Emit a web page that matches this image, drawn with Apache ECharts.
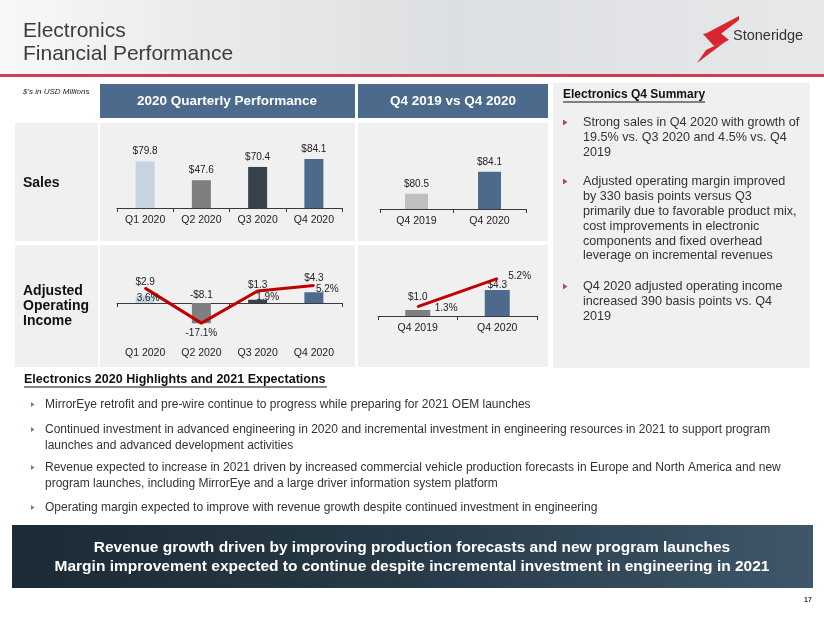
<!DOCTYPE html>
<html>
<head>
<meta charset="utf-8">
<script src="https://cdn.jsdelivr.net/npm/echarts@6/dist/echarts.min.js"></script>
<style>
html,body{margin:0;padding:0;background:#fff;}
#c{width:824px;height:618px;}
</style>
</head>
<body>
<div id="c"></div>
<script>
// ---- data ----
const quarters = ['Q1 2020', 'Q2 2020', 'Q3 2020', 'Q4 2020'];
const salesQ = [79.8, 47.6, 70.4, 84.1];
const opIncomeQ = [2.9, -8.1, 1.3, 4.3];
const opMarginQ = [3.6, -17.1, 1.9, 5.2];
const yoyCats = ['Q4 2019', 'Q4 2020'];
const salesYoY = [80.5, 84.1];
const opIncomeYoY = [1.0, 4.3];
const opMarginYoY = [1.3, 5.2];

const summaryBullets = [
  ['Strong sales in Q4 2020 with growth of', '19.5% vs. Q3 2020 and 4.5% vs. Q4', '2019'],
  ['Adjusted operating margin improved', 'by 330 basis points versus Q3', 'primarily due to favorable product mix,', 'cost improvements in electronic', 'components and fixed overhead', 'leverage on incremental revenues'],
  ['Q4 2020 adjusted operating income', 'increased 390 basis points vs. Q4', '2019']
];
const highlightBullets = [
  ['MirrorEye retrofit and pre-wire continue to progress while preparing for 2021 OEM launches'],
  ['Continued investment in advanced engineering in 2020 and incremental investment in engineering resources in 2021 to support program', 'launches and advanced development activities'],
  ['Revenue expected to increase in 2021 driven by increased commercial vehicle production forecasts in Europe and North America and new', 'program launches, including MirrorEye and a large driver information system platform'],
  ['Operating margin expected to improve with revenue growth despite continued investment in engineering']
];

// ---- styles ----
const FONT = "'Liberation Sans', Arial, sans-serif";
const quarterColors = ['#c6d4e1', '#7f7f7f', '#37424c', '#4b6a8c'];
const yoySalesColors = ['#bfbfbf', '#4b6a8c'];
const yoyOpColors = ['#7f7f7f', '#4b6a8c'];
const RED = '#c00000';
const AXIS = '#3a3a3a';

const money = v => (v < 0 ? '-$' : '$') + Math.abs(v).toFixed(1);
const pct = v => v.toFixed(1) + '%';

const chart = echarts.init(document.getElementById('c'), null, {renderer: 'canvas'});

const g = [];
// header background
g.push({type: 'rect', z: -20, shape: {x: 0, y: 0, width: 824, height: 75},
  style: {fill: new echarts.graphic.LinearGradient(0, 0, 1, 0, [
    {offset: 0, color: '#f8f8f8'}, {offset: 0.25, color: '#e9eaeb'},
    {offset: 0.55, color: '#dcdfe1'}, {offset: 1, color: '#e6e8ea'}])}});
g.push({type: 'text', z: 50, style: {text: 'Electronics', x: 23, y: 31, font: '21px ' + FONT, fill: '#3c3c3c', textVerticalAlign: 'middle'}});
g.push({type: 'text', z: 50, style: {text: 'Financial Performance', x: 23, y: 54, font: '21px ' + FONT, fill: '#3c3c3c', textVerticalAlign: 'middle'}});
// logo
g.push({type: 'polygon', z: 50, shape: {points: [[739,16],[739,20],[718,36],[703,35]]}, style: {fill: '#d8252f'}});
g.push({type: 'polygon', z: 50, shape: {points: [[703,34],[718,31],[729,40],[714,46]]}, style: {fill: '#d8252f'}});
g.push({type: 'polygon', z: 50, shape: {points: [[729,39],[717,48],[697,63],[706,50]]}, style: {fill: '#d8252f'}});
g.push({type: 'text', z: 50, style: {text: 'Stoneridge', x: 733, y: 36, font: '14.5px ' + FONT, fill: '#333', textVerticalAlign: 'middle'}});
// red rule
g.push({type: 'rect', z: 50, shape: {x: 0, y: 74, width: 824, height: 3}, style: {fill: '#d03d52'}});
g.push({type: 'text', z: 50, style: {text: "$'s in USD Millions", x: 23, y: 92, font: 'italic 8px ' + FONT, fill: '#222', textVerticalAlign: 'middle'}});

// table headers
g.push({type: 'rect', z: -10, shape: {x: 100, y: 84, width: 255, height: 34}, style: {fill: '#4b6a8c'}});
g.push({type: 'rect', z: -10, shape: {x: 358, y: 84, width: 190, height: 34}, style: {fill: '#4b6a8c'}});
g.push({type: 'text', z: 50, style: {text: '2020 Quarterly Performance', x: 227, y: 101, font: 'bold 13.5px ' + FONT, fill: '#fff', textAlign: 'center', textVerticalAlign: 'middle'}});
g.push({type: 'text', z: 50, style: {text: 'Q4 2019 vs Q4 2020', x: 453, y: 101, font: 'bold 13.5px ' + FONT, fill: '#fff', textAlign: 'center', textVerticalAlign: 'middle'}});
// cells
[[123, 118], [245, 122]].forEach(([y, h]) => {
  g.push({type: 'rect', z: -10, shape: {x: 15, y: y, width: 83, height: h}, style: {fill: '#f0f0f0'}});
  g.push({type: 'rect', z: -10, shape: {x: 100, y: y, width: 255, height: h}, style: {fill: '#f0f0f0'}});
  g.push({type: 'rect', z: -10, shape: {x: 358, y: y, width: 190, height: h}, style: {fill: '#f0f0f0'}});
});
g.push({type: 'text', z: 50, style: {text: 'Sales', x: 23, y: 183, font: 'bold 14px ' + FONT, fill: '#111', textVerticalAlign: 'middle'}});
['Adjusted', 'Operating', 'Income'].forEach((t, i) => {
  g.push({type: 'text', z: 50, style: {text: t, x: 23, y: 291 + i * 15, font: 'bold 14px ' + FONT, fill: '#111', textVerticalAlign: 'middle'}});
});

// summary panel
g.push({type: 'rect', z: -10, shape: {x: 553, y: 83, width: 257, height: 285}, style: {fill: '#f0f0f0'}});
g.push({type: 'text', z: 50, style: {text: 'Electronics Q4 Summary', x: 563, y: 95, font: 'bold 12px ' + FONT, fill: '#111', textVerticalAlign: 'middle'}});
g.push({type: 'rect', z: 50, shape: {x: 563, y: 101.5, width: 142, height: 1}, style: {fill: '#111'}});
const sumTops = [123, 182, 287];
summaryBullets.forEach((lines, bi) => {
  const y0 = sumTops[bi];
  g.push({type: 'polygon', z: 50, shape: {points: [[563, y0 - 3.5], [563, y0 + 2.5], [567.5, y0 - 0.5]]}, style: {fill: '#b84a5c'}});
  lines.forEach((t, li) => {
    g.push({type: 'text', z: 50, style: {text: t, x: 583, y: y0 + li * 14.8, font: '12.6px ' + FONT, fill: '#333', textVerticalAlign: 'middle'}});
  });
});

// highlights
g.push({type: 'text', z: 50, style: {text: 'Electronics 2020 Highlights and 2021 Expectations', x: 24, y: 380, font: 'bold 12.5px ' + FONT, fill: '#111', textVerticalAlign: 'middle'}});
g.push({type: 'rect', z: 50, shape: {x: 24, y: 386.5, width: 303, height: 1}, style: {fill: '#111'}});
const hlTops = [405, 430, 468, 508];
highlightBullets.forEach((lines, bi) => {
  const y0 = hlTops[bi];
  g.push({type: 'polygon', z: 50, shape: {points: [[31, y0 - 3], [31, y0 + 2], [34.5, y0 - 0.5]]}, style: {fill: '#c46070'}});
  lines.forEach((t, li) => {
    g.push({type: 'text', z: 50, style: {text: t, x: 45, y: y0 + li * 15.5, font: '12px ' + FONT, fill: '#333', textVerticalAlign: 'middle'}});
  });
});

// banner
g.push({type: 'rect', z: -10, shape: {x: 12, y: 525, width: 801, height: 63},
  style: {fill: new echarts.graphic.LinearGradient(0, 0, 1, 0, [
    {offset: 0, color: '#1c2a35'}, {offset: 0.5, color: '#283a48'}, {offset: 1, color: '#3e5769'}])}});
g.push({type: 'text', z: 50, style: {text: 'Revenue growth driven by improving production forecasts and new program launches', x: 412, y: 548, font: 'bold 15.5px ' + FONT, fill: '#fff', textAlign: 'center', textVerticalAlign: 'middle'}});
g.push({type: 'text', z: 50, style: {text: 'Margin improvement expected to continue despite incremental investment in engineering in 2021', x: 412, y: 567, font: 'bold 15.5px ' + FONT, fill: '#fff', textAlign: 'center', textVerticalAlign: 'middle'}});
g.push({type: 'text', z: 50, style: {text: '17', x: 808, y: 600, font: 'bold 7px ' + FONT, fill: '#333', textAlign: 'center', textVerticalAlign: 'middle'}});

const tickLabel = {fontSize: 10.5, color: '#222', fontFamily: FONT};
const valLabel = {fontSize: 10, color: '#222', fontFamily: FONT};
const catAxis = (grid, data, extra) => Object.assign({
  type: 'category', gridIndex: grid, data: data, boundaryGap: true, position: 'bottom',
  axisLine: {show: true, onZero: false, lineStyle: {color: AXIS, width: 1}},
  axisTick: {show: true, length: 4, lineStyle: {color: AXIS}},
  axisLabel: Object.assign({margin: 7}, tickLabel),
  splitLine: {show: false}
}, extra || {});
const valAxis = (grid, min, max) => ({type: 'value', gridIndex: grid, min: min, max: max, show: false, splitLine: {show: false}});

const barDist = [9, 3, 10, 9];
const lineLblQ = [
  {show: true, position: 'bottom', distance: 4, offset: [3, 0]},
  {show: true, position: 'bottom', distance: 4, offset: [0, 0]},
  {show: true, position: 'bottom', distance: 0, offset: [10, 0]},
  {show: true, position: 'right', distance: 1, offset: [0, 4]}
];
const barDistYoY = [8, 0];
const lineLblYoY = [
  {show: true, position: 'right', distance: 16, offset: [0, 1.5]},
  {show: true, position: 'right', distance: 10, offset: [0, -2]}
];

const option = {
  animation: false,
  backgroundColor: '#ffffff',
  graphic: g,
  grid: [
    {left: 117, width: 225, top: 149.7, height: 58.3},
    {left: 117, width: 225, top: 278, height: 50},
    {left: 380, width: 146, top: 148, height: 61},
    {left: 378, width: 159, top: 267.6, height: 48.4}
  ],
  xAxis: [
    catAxis(0, quarters),
    catAxis(1, quarters, {axisLine: {show: true, onZero: true, onZeroAxisIndex: 1, lineStyle: {color: AXIS, width: 1}}, axisLabel: {show: false}}),
    catAxis(1, quarters, {axisLine: {show: false, onZero: false}, axisTick: {show: false}, axisLabel: Object.assign({margin: 20}, tickLabel)}),
    catAxis(2, yoyCats),
    catAxis(3, yoyCats)
  ],
  yAxis: [
    valAxis(0, 0, 100),
    valAxis(1, -10, 10),
    valAxis(1, -20, 9.6),
    valAxis(2, 78, 88),
    valAxis(3, 0, 8),
    valAxis(3, 0, 6.74)
  ],
  series: [
    {type: 'bar', xAxisIndex: 0, yAxisIndex: 0, barWidth: 19,
      data: salesQ.map((v, i) => ({value: v, itemStyle: {color: quarterColors[i]}})),
      label: Object.assign({show: true, position: 'top', distance: 5, formatter: p => money(p.value)}, valLabel)},
    {type: 'bar', xAxisIndex: 1, yAxisIndex: 1, barWidth: 19,
      data: opIncomeQ.map((v, i) => ({value: v, itemStyle: {color: quarterColors[i]},
        label: {distance: barDist[i]}})),
      label: Object.assign({show: true, position: 'top', formatter: p => money(p.value)}, valLabel)},
    {type: 'line', xAxisIndex: 1, yAxisIndex: 2, symbol: 'circle', symbolSize: 2, showSymbol: true, z: 5,
      lineStyle: {color: RED, width: 3}, itemStyle: {color: RED},
      data: opMarginQ.map((v, i) => ({value: v, label: lineLblQ[i]})),
      label: Object.assign({show: true, formatter: p => pct(p.value)}, valLabel)},
    {type: 'bar', xAxisIndex: 3, yAxisIndex: 3, barWidth: 23,
      data: salesYoY.map((v, i) => ({value: v, itemStyle: {color: yoySalesColors[i]}})),
      label: Object.assign({show: true, position: 'top', distance: 5, formatter: p => money(p.value)}, valLabel)},
    {type: 'bar', xAxisIndex: 4, yAxisIndex: 4, barWidth: 25,
      data: opIncomeYoY.map((v, i) => ({value: v, itemStyle: {color: yoyOpColors[i]},
        label: {distance: barDistYoY[i]}})),
      label: Object.assign({show: true, position: 'top', formatter: p => money(p.value)}, valLabel)},
    {type: 'line', xAxisIndex: 4, yAxisIndex: 5, symbol: 'circle', symbolSize: 2, showSymbol: true, z: 5,
      lineStyle: {color: RED, width: 3}, itemStyle: {color: RED},
      data: opMarginYoY.map((v, i) => ({value: v, label: lineLblYoY[i]})),
      label: Object.assign({show: true, formatter: p => pct(p.value)}, valLabel)}
  ]
};
chart.setOption(option);
</script>
</body>
</html>
